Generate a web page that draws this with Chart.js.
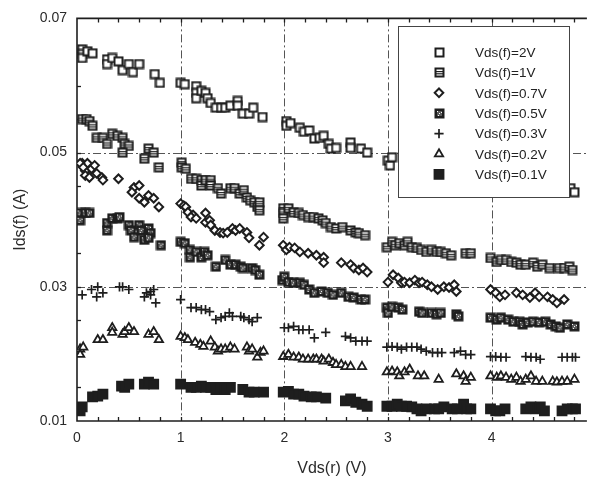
<!DOCTYPE html>
<html>
<head>
<meta charset="utf-8">
<script src="https://cdn.jsdelivr.net/npm/chart.js@4.4.1/dist/chart.umd.min.js"></script>
<style>
  html, body { margin: 0; padding: 0; background: #fff; }
  canvas { display: block; }
</style>
</head>
<body>
<canvas id="chart" width="595" height="481"></canvas>
<script>
// --- dados: Ids(f) (A) em função de Vds(r) (V), [x, y] ---
const seriesLabels = ['Vds(f)=2V', 'Vds(f)=1V', 'Vds(f)=0.7V', 'Vds(f)=0.5V', 'Vds(f)=0.3V', 'Vds(f)=0.2V', 'Vds(f)=0.1V'];

const s2V = [[0.05,0.0654],[0.05,0.0647],[0.05,0.0641],[0.10,0.0651],[0.15,0.0648],[0.29,0.0639],[0.29,0.0632],[0.34,0.0641],[0.40,0.0636],[0.44,0.0623],[0.50,0.0632],[0.54,0.0620],[0.60,0.0632],[0.75,0.0617],[0.80,0.0604],
  [1.00,0.0604],[1.04,0.0602],[1.15,0.0599],[1.15,0.0589],[1.15,0.0581],[1.20,0.0592],[1.24,0.0589],[1.26,0.0581],[1.29,0.0574],[1.34,0.0567],[1.39,0.0567],[1.43,0.0567],[1.48,0.0570],[1.55,0.0577],[1.55,0.0570],[1.60,0.0558],[1.66,0.0558],[1.70,0.0567],[1.79,0.0553],
  [2.02,0.0547],[2.02,0.0540],[2.06,0.0544],[2.15,0.0537],[2.19,0.0531],[2.24,0.0533],[2.29,0.0521],[2.34,0.0522],[2.38,0.0525],[2.43,0.0513],[2.45,0.0506],[2.50,0.0507],[2.64,0.0515],[2.64,0.0507],[2.74,0.0506],[2.80,0.0500],
  [3.00,0.0488],[3.02,0.0481],[3.04,0.0493],[4.73,0.0444],[4.76,0.0447],[4.80,0.0441]];

const s1V = [[0.05,0.0550],[0.09,0.0550],[0.12,0.0547],[0.15,0.0540],[0.19,0.0522],[0.25,0.0522],[0.29,0.0513],[0.34,0.0528],[0.39,0.0525],[0.44,0.0522],[0.46,0.0513],[0.50,0.0510],[0.44,0.0500],[0.65,0.0491],[0.69,0.0506],[0.74,0.0500],[0.79,0.0478],
  [1.01,0.0485],[1.01,0.0478],[1.05,0.0476],[1.10,0.0461],[1.15,0.0461],[1.20,0.0459],[1.20,0.0451],[1.24,0.0459],[1.29,0.0459],[1.29,0.0451],[1.36,0.0447],[1.39,0.0439],[1.48,0.0447],[1.52,0.0447],[1.57,0.0439],[1.61,0.0444],[1.64,0.0433],[1.67,0.0429],[1.71,0.0426],[1.74,0.0419],[1.76,0.0426],[1.76,0.0414],
  [1.99,0.0417],[1.99,0.0410],[1.99,0.0402],[2.04,0.0417],[2.09,0.0411],[2.14,0.0410],[2.18,0.0407],[2.23,0.0404],[2.28,0.0404],[2.33,0.0402],[2.37,0.0399],[2.40,0.0395],[2.45,0.0389],[2.50,0.0387],[2.56,0.0389],[2.64,0.0384],[2.69,0.0381],[2.72,0.0380],[2.78,0.0377],
  [2.99,0.0359],[3.04,0.0367],[3.07,0.0362],[3.11,0.0365],[3.16,0.0362],[3.19,0.0367],[3.23,0.0359],[3.28,0.0358],[3.32,0.0355],[3.37,0.0352],[3.42,0.0355],[3.47,0.0352],[3.51,0.0352],[3.56,0.0350],[3.61,0.0347],[3.75,0.0350],[3.80,0.0350],
  [3.99,0.0343],[4.05,0.0337],[4.09,0.0340],[4.14,0.0340],[4.19,0.0337],[4.24,0.0336],[4.28,0.0333],[4.33,0.0333],[4.40,0.0336],[4.44,0.0330],[4.49,0.0333],[4.56,0.0328],[4.65,0.0328],[4.70,0.0328],[4.75,0.0330],[4.78,0.0325]];

const s07V = [[0.05,0.0484],[0.08,0.0473],[0.10,0.0484],[0.14,0.0476],[0.17,0.0481],[0.08,0.0466],[0.12,0.0463],[0.19,0.0469],[0.03,0.0484],[0.06,0.0478],[0.24,0.0463],[0.25,0.0459],[0.40,0.0461],[0.55,0.0448],[0.60,0.0451],[0.53,0.0441],[0.60,0.0432],[0.65,0.0426],[0.69,0.0436],[0.74,0.0432],[0.79,0.0419],
  [1.00,0.0424],[1.03,0.0421],[1.05,0.0419],[1.07,0.0411],[1.12,0.0407],[1.10,0.0404],[1.15,0.0402],[1.24,0.0410],[1.24,0.0396],[1.28,0.0399],[1.29,0.0392],[1.33,0.0384],[1.38,0.0381],[1.41,0.0380],[1.45,0.0381],[1.50,0.0387],[1.53,0.0384],[1.57,0.0387],[1.64,0.0381],[1.66,0.0373],[1.76,0.0362],[1.80,0.0374],
  [1.99,0.0362],[2.02,0.0355],[2.05,0.0359],[2.10,0.0358],[2.15,0.0352],[2.23,0.0350],[2.31,0.0347],[2.38,0.0344],[2.38,0.0336],[2.55,0.0336],[2.64,0.0333],[2.67,0.0328],[2.72,0.0325],[2.76,0.0328],[2.80,0.0322],
  [3.00,0.0307],[3.05,0.0318],[3.10,0.0313],[3.13,0.0306],[3.16,0.0307],[3.21,0.0306],[3.26,0.0310],[3.30,0.0306],[3.33,0.0307],[3.38,0.0303],[3.42,0.0300],[3.48,0.0296],[3.54,0.0300],[3.59,0.0299],[3.64,0.0303],[3.66,0.0293],
  [3.99,0.0296],[4.04,0.0291],[4.08,0.0285],[4.13,0.0288],[4.24,0.0291],[4.30,0.0288],[4.37,0.0284],[4.42,0.0291],[4.46,0.0285],[4.54,0.0285],[4.59,0.0281],[4.63,0.0276],[4.70,0.0281]];

const s05V = [[0.03,0.0410],[0.08,0.0410],[0.12,0.0410],[0.03,0.0399],[0.29,0.0395],[0.29,0.0384],[0.34,0.0402],[0.39,0.0402],[0.41,0.0404],[0.50,0.0392],[0.52,0.0384],[0.55,0.0374],[0.60,0.0392],[0.62,0.0384],[0.65,0.0370],[0.69,0.0387],[0.71,0.0380],[0.69,0.0373],[0.81,0.0362],
  [1.00,0.0367],[1.04,0.0365],[1.09,0.0355],[1.09,0.0344],[1.15,0.0352],[1.20,0.0344],[1.23,0.0352],[1.26,0.0347],[1.34,0.0330],[1.43,0.0340],[1.48,0.0333],[1.53,0.0333],[1.58,0.0330],[1.60,0.0328],[1.69,0.0328],[1.72,0.0325],[1.76,0.0318],
  [1.98,0.0310],[2.00,0.0315],[2.04,0.0307],[2.09,0.0306],[2.15,0.0306],[2.19,0.0303],[2.24,0.0296],[2.29,0.0291],[2.36,0.0293],[2.42,0.0291],[2.47,0.0288],[2.55,0.0291],[2.62,0.0285],[2.67,0.0284],[2.74,0.0281],[2.78,0.0281],
  [2.99,0.0269],[3.00,0.0261],[3.04,0.0270],[3.10,0.0269],[3.14,0.0266],[3.30,0.0263],[3.33,0.0261],[3.42,0.0261],[3.47,0.0259],[3.51,0.0261],[3.66,0.0259],[3.68,0.0256],
  [3.99,0.0254],[4.05,0.0251],[4.09,0.0254],[4.16,0.0251],[4.21,0.0248],[4.27,0.0248],[4.30,0.0244],[4.35,0.0247],[4.40,0.0248],[4.46,0.0247],[4.52,0.0248],[4.57,0.0244],[4.62,0.0241],[4.66,0.0239],[4.73,0.0244],[4.80,0.0241]];

const s03V = [[0.05,0.0288],[0.14,0.0296],[0.20,0.0300],[0.19,0.0285],[0.25,0.0291],[0.41,0.0300],[0.44,0.0300],[0.50,0.0296],[0.65,0.0285],[0.67,0.0291],[0.71,0.0293],[0.74,0.0296],[0.76,0.0276],[0.71,0.0288],
  [1.00,0.0281],[1.10,0.0269],[1.15,0.0269],[1.20,0.0266],[1.24,0.0266],[1.28,0.0263],[1.34,0.0251],[1.39,0.0254],[1.43,0.0256],[1.47,0.0261],[1.50,0.0256],[1.58,0.0256],[1.61,0.0254],[1.66,0.0251],[1.69,0.0248],[1.74,0.0254],
  [2.00,0.0239],[2.04,0.0239],[2.09,0.0241],[2.14,0.0236],[2.18,0.0236],[2.24,0.0236],[2.29,0.0224],[2.40,0.0232],[2.59,0.0226],[2.64,0.0224],[2.69,0.0219],[2.75,0.0219],[2.80,0.0219],
  [2.99,0.0210],[3.04,0.0211],[3.09,0.0210],[3.13,0.0207],[3.18,0.0210],[3.23,0.0210],[3.28,0.0210],[3.32,0.0207],[3.37,0.0204],[3.43,0.0202],[3.48,0.0202],[3.52,0.0202],[3.64,0.0202],[3.70,0.0204],[3.75,0.0199],[3.80,0.0199],
  [3.99,0.0196],[4.04,0.0196],[4.09,0.0195],[4.14,0.0195],[4.33,0.0196],[4.38,0.0195],[4.43,0.0195],[4.47,0.0192],[4.68,0.0195],[4.73,0.0195],[4.78,0.0195],[4.81,0.0195]];

const s02V = [[0.03,0.0207],[0.06,0.0210],[0.03,0.0199],[0.20,0.0221],[0.25,0.0221],[0.34,0.0239],[0.34,0.0232],[0.44,0.0229],[0.46,0.0233],[0.50,0.0239],[0.55,0.0233],[0.69,0.0229],[0.74,0.0233],[0.79,0.0221],
  [1.00,0.0226],[1.04,0.0224],[1.07,0.0221],[1.14,0.0217],[1.19,0.0214],[1.22,0.0211],[1.29,0.0219],[1.33,0.0210],[1.36,0.0204],[1.39,0.0207],[1.43,0.0207],[1.48,0.0210],[1.52,0.0207],[1.64,0.0210],[1.66,0.0204],[1.69,0.0207],[1.74,0.0195],[1.77,0.0202],[1.80,0.0204],
  [1.99,0.0196],[2.04,0.0199],[2.09,0.0195],[2.14,0.0195],[2.18,0.0192],[2.23,0.0192],[2.28,0.0192],[2.31,0.0192],[2.36,0.0192],[2.38,0.0189],[2.43,0.0192],[2.47,0.0187],[2.50,0.0184],[2.55,0.0184],[2.59,0.0181],[2.64,0.0181],[2.75,0.0181],
  [2.99,0.0173],[3.04,0.0174],[3.09,0.0173],[3.11,0.0167],[3.16,0.0173],[3.21,0.0177],[3.29,0.0167],[3.35,0.0167],[3.49,0.0162],[3.66,0.0170],[3.73,0.0167],[3.75,0.0159],[3.80,0.0165],
  [3.99,0.0167],[4.05,0.0165],[4.09,0.0167],[4.14,0.0165],[4.19,0.0162],[4.24,0.0165],[4.28,0.0159],[4.33,0.0162],[4.38,0.0167],[4.43,0.0159],[4.49,0.0159],[4.59,0.0159],[4.63,0.0158],[4.68,0.0159],[4.73,0.0159],[4.80,0.0162]];

const s01V = [[0.05,0.0121],[0.03,0.0115],[0.15,0.0136],[0.20,0.0137],[0.25,0.0140],[0.43,0.0152],[0.46,0.0150],[0.50,0.0155],[0.65,0.0155],[0.69,0.0158],[0.74,0.0155],
  [1.00,0.0155],[1.10,0.0150],[1.15,0.0150],[1.20,0.0152],[1.24,0.0150],[1.29,0.0150],[1.34,0.0147],[1.39,0.0150],[1.43,0.0147],[1.48,0.0150],[1.60,0.0147],[1.66,0.0143],[1.71,0.0143],[1.80,0.0143],
  [1.99,0.0143],[2.04,0.0144],[2.09,0.0140],[2.14,0.0140],[2.19,0.0137],[2.26,0.0136],[2.31,0.0136],[2.40,0.0134],[2.59,0.0130],[2.64,0.0133],[2.69,0.0128],[2.75,0.0125],[2.80,0.0122],
  [2.99,0.0122],[3.04,0.0122],[3.09,0.0125],[3.13,0.0122],[3.18,0.0122],[3.23,0.0121],[3.28,0.0118],[3.32,0.0115],[3.37,0.0118],[3.45,0.0118],[3.49,0.0118],[3.54,0.0121],[3.62,0.0118],[3.67,0.0118],[3.73,0.0125],[3.76,0.0118],[3.80,0.0118],
  [3.99,0.0118],[4.04,0.0115],[4.08,0.0115],[4.13,0.0118],[4.33,0.0118],[4.38,0.0121],[4.43,0.0118],[4.47,0.0121],[4.51,0.0115],[4.68,0.0115],[4.73,0.0118],[4.78,0.0118],[4.81,0.0118]];

// eixos
const xTicks = [0, 1, 2, 3, 4];
const yTicks = [0.01, 0.03, 0.05, 0.07];
const xGrid = [1, 2, 3, 4];
const yGrid = [0.03, 0.05];

const INK = '#1e1e1e';
const FONT = '"Liberation Sans", Arial, Helvetica, sans-serif';

// marcadores desenhados à mão (quadrado vazio, quadrado riscado, quadrado pontilhado)
function makeMarker(kind) {
    const c = document.createElement('canvas');
    c.width = 11; c.height = 11;
    const g = c.getContext('2d');
    if (kind === 'dotted') {
        g.fillStyle = INK;
        g.fillRect(0.5, 0.5, 10, 10);
        g.fillStyle = '#5a5a5a';
        g.fillRect(3, 3, 5, 5);
        g.fillStyle = '#fff';
        g.fillRect(3, 3, 1, 1); g.fillRect(7, 4, 1, 1); g.fillRect(5, 5, 1, 1); g.fillRect(4, 7, 1, 1);
    } else {
        g.fillStyle = '#fff';
        g.fillRect(1.5, 1.5, 8, 8);
        g.strokeStyle = INK;
        g.lineWidth = 2;
        g.strokeRect(1.5, 1.5, 8, 8);
        if (kind === 'lined') {
            g.fillStyle = INK;
            g.fillRect(1.5, 4, 8, 1.2);
            g.fillRect(1.5, 6.2, 8, 1.2);
        }
    }
    return c;
}

const styles = [
    { pointStyle: makeMarker('open'), radius: 5.5, bg: '#fff', lw: 2 },
    { pointStyle: makeMarker('lined'), radius: 5.5, bg: '#fff', lw: 2 },
    { pointStyle: 'rectRot', radius: 4.3, bg: '#fff', lw: 2 },
    { pointStyle: makeMarker('dotted'), radius: 5.5, bg: INK, lw: 2 },
    { pointStyle: 'cross', radius: 4.6, bg: INK, lw: 1.7 },
    { pointStyle: 'triangle', radius: 4.8, bg: '#fff', lw: 1.8 },
    { pointStyle: 'rect', radius: 6.6, bg: INK, lw: 1.5 }
];

const allSeries = [s2V, s1V, s07V, s05V, s03V, s02V, s01V];

const datasets = allSeries.map((s, i) => ({
    label: seriesLabels[i],
    data: s.map(p => ({ x: p[0], y: p[1] })),
    showLine: false,
    pointStyle: styles[i].pointStyle,
    pointRadius: styles[i].radius,
    pointHoverRadius: styles[i].radius,
    pointBackgroundColor: styles[i].bg,
    pointBorderColor: INK,
    pointBorderWidth: styles[i].lw
}));

// moldura, grelha tracejada e traços menores para dentro
const framePlugin = {
    id: 'frame',
    beforeDatasetsDraw(chart) {
        const { ctx, chartArea: a, scales: { x, y } } = chart;
        ctx.save();
        ctx.strokeStyle = '#555';
        ctx.lineWidth = 1;
        ctx.setLineDash([8, 3, 2, 3]);
        xGrid.forEach(v => {
            const px = Math.round(x.getPixelForValue(v)) + 0.5;
            ctx.beginPath(); ctx.moveTo(px, a.top); ctx.lineTo(px, a.bottom); ctx.stroke();
        });
        yGrid.forEach(v => {
            const py = Math.round(y.getPixelForValue(v)) + 0.5;
            ctx.beginPath(); ctx.moveTo(a.left, py); ctx.lineTo(a.right, py); ctx.stroke();
        });
        ctx.setLineDash([]);

        ctx.strokeStyle = INK;
        ctx.lineWidth = 1.3;
        for (let i = 1; i * 0.2 < x.max; i++) {
            const px = Math.round(x.getPixelForValue(i * 0.2)) + 0.5;
            ctx.beginPath();
            ctx.moveTo(px, a.bottom); ctx.lineTo(px, a.bottom - 4);
            ctx.moveTo(px, a.top); ctx.lineTo(px, a.top + 4);
            ctx.stroke();
        }
        for (let i = 1; i < 12; i++) {
            const py = Math.round(y.getPixelForValue(0.01 + i * 0.005)) + 0.5;
            ctx.beginPath(); ctx.moveTo(a.left, py); ctx.lineTo(a.left + 4, py); ctx.stroke();
        }

        ctx.lineWidth = 1.6;
        ctx.beginPath();
        ctx.moveTo(a.right, a.top); ctx.lineTo(a.left, a.top);
        ctx.lineTo(a.left, a.bottom); ctx.lineTo(a.right, a.bottom);
        ctx.stroke();

        // títulos dos eixos
        ctx.fillStyle = '#2a2a2a';
        ctx.font = '16px ' + FONT;
        ctx.textAlign = 'center';
        ctx.textBaseline = 'middle';
        ctx.fillText('Vds(r) (V)', (a.left + a.right) / 2, 469);
        ctx.translate(21, (a.top + a.bottom) / 2);
        ctx.rotate(-Math.PI / 2);
        ctx.fillText('Ids(f) (A)', 0, 0);
        ctx.restore();
    }
};

function drawMarker(ctx, st, cx, cy) {
    const ps = st.pointStyle;
    if (typeof ps !== 'string') {
        ctx.drawImage(ps, Math.round(cx - ps.width / 2), Math.round(cy - ps.height / 2));
        return;
    }
    const r = st.radius;
    ctx.beginPath();
    if (ps === 'rectRot') {
        ctx.moveTo(cx, cy - r); ctx.lineTo(cx + r, cy); ctx.lineTo(cx, cy + r); ctx.lineTo(cx - r, cy); ctx.closePath();
    } else if (ps === 'cross') {
        ctx.moveTo(cx - r, cy); ctx.lineTo(cx + r, cy); ctx.moveTo(cx, cy - r); ctx.lineTo(cx, cy + r);
    } else if (ps === 'triangle') {
        ctx.moveTo(cx, cy - r);
        ctx.lineTo(cx + r * Math.sin(Math.PI * 2 / 3), cy - r * Math.cos(Math.PI * 2 / 3));
        ctx.lineTo(cx - r * Math.sin(Math.PI * 2 / 3), cy - r * Math.cos(Math.PI * 2 / 3));
        ctx.closePath();
    } else {
        const h = r * Math.SQRT1_2;
        ctx.rect(cx - h, cy - h, 2 * h, 2 * h);
    }
    ctx.fillStyle = st.bg;
    ctx.fill();
    ctx.strokeStyle = INK;
    ctx.lineWidth = st.lw;
    ctx.stroke();
}

// legenda com fundo branco por cima dos pontos
const legendPlugin = {
    id: 'boxLegend',
    afterDraw(chart) {
        const ctx = chart.ctx;
        ctx.save();
        ctx.fillStyle = '#fff';
        ctx.fillRect(398, 26, 172, 172);
        ctx.strokeStyle = '#444';
        ctx.lineWidth = 1;
        ctx.strokeRect(398.5, 26.5, 171, 171);
        seriesLabels.forEach((lab, i) => {
            const cy = 52 + i * 20.4;
            drawMarker(ctx, styles[i], 439, cy);
            ctx.fillStyle = '#222';
            ctx.font = '13.5px ' + FONT;
            ctx.textAlign = 'left';
            ctx.textBaseline = 'middle';
            ctx.fillText(lab, 475, cy + 1);
        });
        ctx.restore();
    }
};

new Chart(document.getElementById('chart'), {
    type: 'scatter',
    data: { datasets: datasets },
    options: {
        responsive: false,
        animation: false,
        events: [],
        layout: { padding: { top: 17, right: 0, bottom: 0, left: 0 } },
        plugins: { legend: { display: false }, tooltip: { enabled: false } },
        scales: {
            x: {
                type: 'linear',
                position: 'bottom',
                min: 0,
                max: 4.92,
                grid: { display: false, drawTicks: false },
                border: { display: false },
                afterFit: s => { s.height = 60; },
                afterBuildTicks: s => { s.ticks = xTicks.map(v => ({ value: v })); },
                ticks: {
                    color: '#2a2a2a',
                    font: { family: FONT, size: 14 },
                    padding: 9,
                    maxRotation: 0,
                    autoSkip: false,
                    callback: v => String(v)
                }
            },
            y: {
                type: 'linear',
                min: 0.01,
                max: 0.07,
                grid: { display: false, drawTicks: false },
                border: { display: false },
                afterFit: s => { s.width = 77; },
                afterBuildTicks: s => { s.ticks = yTicks.map(v => ({ value: v })); },
                ticks: {
                    color: '#2a2a2a',
                    font: { family: FONT, size: 14 },
                    padding: 10,
                    autoSkip: false,
                    callback: v => Number(v).toFixed(2)
                }
            }
        }
    },
    plugins: [framePlugin, legendPlugin]
});
</script>
</body>
</html>
